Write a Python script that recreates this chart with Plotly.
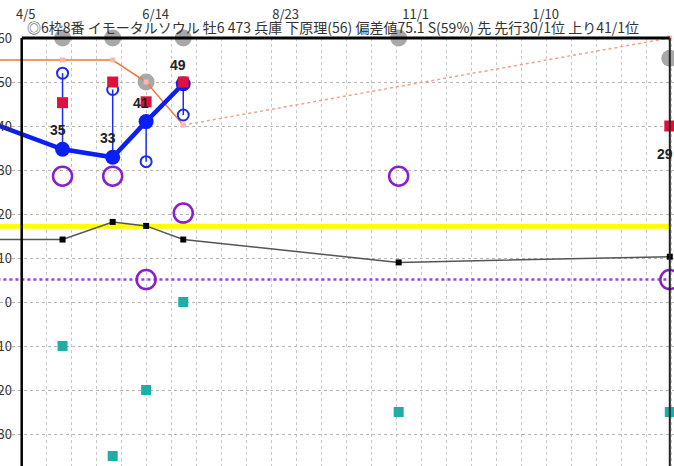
import plotly.graph_objects as go
import pandas as pd

# ---- data ----
races = ["2022-03-10", "2022-04-27", "2022-05-24", "2022-06-11",
         "2022-07-01", "2022-10-25", "2023-03-20"]
speed = [42.2, 34.7, 32.9, 41.0, 49.6, None, None]          # blue thick line
speed_labels = [None, "35", "33", "41", "49", None, "29"]
label_vals = [None, 34.7, 32.9, 41.0, 49.6, None, 29.3]
speed_alt = [None, 52.0, 48.3, 31.9, 42.5, None, None]       # hollow blue circles
red_vals = [None, 45.3, 50.0, 45.5, 50.0, None, 40.0]
gray_vals = [None, 60.0, 60.0, 50.0, 60.0, 60.0, 55.4]
orange_vals = [55.0, 55.0, 55.0, 50.0, 40.2, None, 60.0]
purple_vals = [None, 28.6, 28.6, 5.1, 20.2, 28.6, 5.1]
black_vals = [14.2, 14.2, 18.2, 17.3, 14.2, 9.0, 10.3]
teal_vals = [None, -10.0, -35.0, -20.0, 0.0, -25.0, -25.0]
yellow_level = 17.2
purple_level = 5.1

tick_dates = ["2022-04-05", "2022-06-14", "2022-08-23", "2022-11-01",
              "2023-01-10", "2023-03-21"]
tick_text = ["4/5", "6/14", "8/23", "11/1", "1/10", "3/21"]
title_text = "◎6枠8番 イモータルソウル 牡6 473 兵庫 下原理(56) 偏差値75.1 S(59%) 先 先行30/1位 上り41/1位"

box_start = "2022-04-05"
box_end = "2023-03-20"

# ---- layout geometry ----
W, H = 674, 466
px_per_day = 1.857
x0 = pd.Timestamp(box_start) - pd.Timedelta(days=21.7 / px_per_day)
x1 = x0 + pd.Timedelta(days=W / px_per_day)
grid_ms = 350 / 26 * 86400000

fig = go.Figure()

def line_trace(xs, ys, **kw):
    fig.add_trace(go.Scatter(x=xs, y=ys, cliponaxis=False, showlegend=False,
                             hoverinfo="skip", **kw))

# horizontal reference levels
line_trace([races[0], box_end], [yellow_level, yellow_level], mode="lines",
           line=dict(color="#ffff00", width=5))
line_trace([races[0], box_end], [purple_level, purple_level], mode="lines",
           line=dict(color="#a040e0", width=2.5, dash="dot"))
# black line
line_trace(races, black_vals, mode="lines+markers", connectgaps=True,
           line=dict(color="#555555", width=1.5),
           marker=dict(symbol="square", size=6, color="#000000"))
# purple circles
line_trace(races, purple_vals, mode="markers",
           marker=dict(symbol="circle-open", size=19, color="#8a1ecf",
                       line=dict(width=2.5, color="#8a1ecf")))
# teal squares
line_trace(races, teal_vals, mode="markers",
           marker=dict(symbol="square", size=10, color="#1fada5"))
# gray circles
line_trace(races, gray_vals, mode="markers",
           marker=dict(symbol="circle", size=17, color="#a8a8a8"))
# orange line: solid up to index 4, dotted to last race
line_trace(races[:5], orange_vals[:5], mode="lines",
           line=dict(color="#f07838", width=1.5))
line_trace([races[4], races[6]], [orange_vals[4], orange_vals[6]], mode="lines",
           line=dict(color="#f4a088", width=1.5, dash="dot"))
line_trace(races[1:], orange_vals[1:], mode="markers",
           marker=dict(symbol="square", size=5, color="#ffb4b4"))
# blue range segments
rx, ry = [], []
for d, a, b in zip(races, speed, speed_alt):
    if a is not None and b is not None:
        rx += [d, d, None]
        ry += [a, b, None]
line_trace(rx, ry, mode="lines", line=dict(color="#1a2cf0", width=1.5))
line_trace(races, speed_alt, mode="markers",
           marker=dict(symbol="circle-open", size=11, color="#1a2cf0",
                       line=dict(width=2, color="#1a2cf0")))
# blue main line
line_trace(races, speed, mode="lines+markers",
           line=dict(color="#0a1ef5", width=4.5),
           marker=dict(symbol="circle", size=15, color="#0a1ef5"))
# red squares
line_trace(races, red_vals, mode="markers",
           marker=dict(symbol="square", size=11, color="#e0103c"))

# value labels
for d, t, v in zip(races, speed_labels, label_vals):
    if t is not None:
        fig.add_annotation(x=d, y=v, text="<b>%s</b>" % t, showarrow=False,
                           xshift=-5, yshift=19,
                           font=dict(size=14, color="#222222",
                                     family="Liberation Sans, Arial"))

# title line above the box
fig.add_annotation(xref="paper", yref="paper", x=25 / W, y=1, yshift=11,
                   xanchor="left", yanchor="middle", showarrow=False,
                   text=title_text,
                   font=dict(size=14, color="#333333", family="Noto Sans CJK JP"))

# box borders
fig.add_shape(type="line", xref="x", yref="paper", x0=box_start, x1=box_end,
              y0=1, y1=1, line=dict(color="#000000", width=3))
fig.add_shape(type="line", xref="x", yref="paper", x0=box_start, x1=box_start,
              y0=0, y1=1, line=dict(color="#000000", width=2.5))
fig.add_shape(type="line", xref="x", yref="paper", x0=box_end, x1=box_end,
              y0=0, y1=1, line=dict(color="#222222", width=2))

fig.update_layout(
    width=W, height=H,
    margin=dict(l=0, r=0, t=38, b=0, autoexpand=False),
    paper_bgcolor="#ffffff", plot_bgcolor="#ffffff",
    showlegend=False,
    xaxis=dict(type="date", range=[x0, x1], side="top", automargin=False,
               tickmode="array", tickvals=tick_dates, ticktext=tick_text,
               showgrid=False, zeroline=False, showline=False, ticks="",
               ticklabelstandoff=15, ticklabelshift=4,
               tickfont=dict(size=13, color="#333333", family="Noto Sans CJK JP"),
               minor=dict(tick0=box_start, dtick=grid_ms, showgrid=True,
                          gridcolor="#c8c8c8", griddash="dot", gridwidth=1)),
    yaxis=dict(range=[-37.27, 60], dtick=10, tick0=0, showgrid=True,
               automargin=False,
               gridcolor="#b4b4b4", griddash="dot", gridwidth=1,
               zeroline=False, showline=False, ticks="",
               ticklabelstandoff=-13,
               tickfont=dict(size=13, color="#333333", family="Noto Sans CJK JP")),
)

fig.write_html("out.html", config={"displayModeBar": False},
               post_script="document.body.style.margin='0';document.body.style.padding='0';")
